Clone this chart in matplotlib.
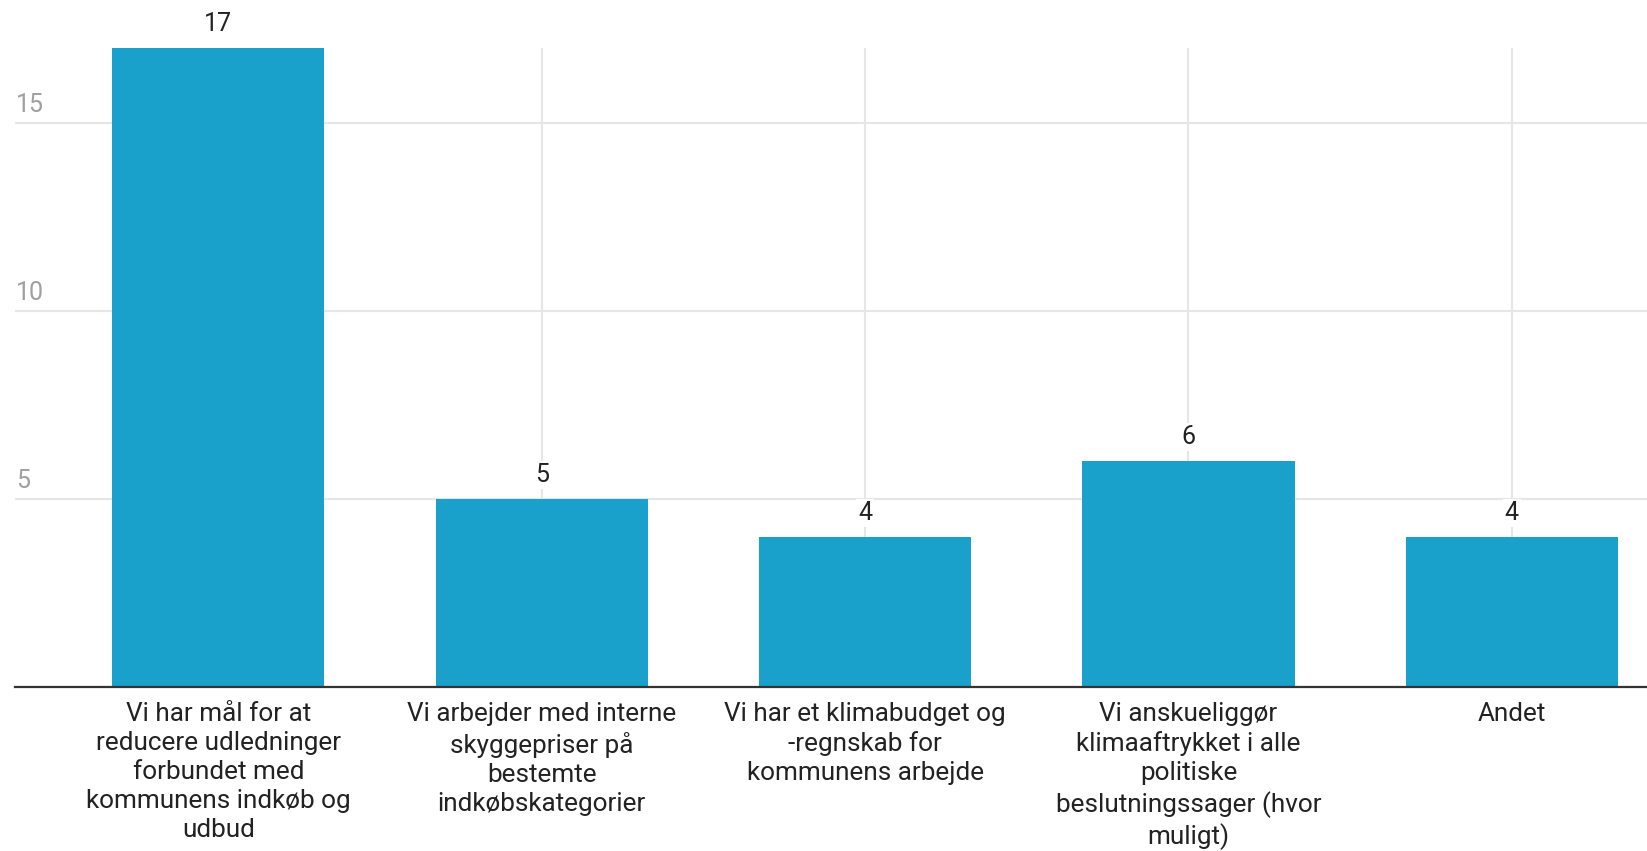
import matplotlib
matplotlib.use("Agg")
import matplotlib.pyplot as plt
from matplotlib.transforms import blended_transform_factory, offset_copy

categories = [
    "Vi har mål for at\nreducere udledninger\nforbundet med\nkommunens indkøb og\nudbud",
    "Vi arbejder med interne\nskyggepriser på\nbestemte\nindkøbskategorier",
    "Vi har et klimabudget og\n-regnskab for\nkommunens arbejde",
    "Vi anskueliggør\nklimaaftrykket i alle\npolitiske\nbeslutningssager (hvor\nmuligt)",
    "Andet",
]
values = [17, 5, 4, 6, 4]
yticks = [5, 10, 15]

plt.rcParams['font.family'] = ['Roboto', 'DejaVu Sans']

fig = plt.figure(figsize=(16.47, 8.51), dpi=100)
ax = fig.add_axes([15/1647, (851-687)/851, 1-15/1647, (687-48)/851])

x = list(range(len(categories)))
bar_color = "#19a1cc"
ax.bar(x, values, width=0.656, color=bar_color, zorder=2)

ax.set_xlim(-0.629, 4.418)
ax.set_ylim(0, 17)

# grid
ax.set_yticks(yticks)
ax.set_xticks(x)
ax.grid(True, axis='both', color='#e6e6e6', linewidth=1.5, zorder=0)
ax.set_axisbelow(True)
ax.tick_params(axis='y', length=0, labelleft=False)
ax.tick_params(axis='x', length=0, pad=11)
ax.set_xticklabels(categories, fontsize=18.8, color='#222222', linespacing=1.26, va='top', ha='center')

for s in ['top', 'right', 'left']:
    ax.spines[s].set_visible(False)
ax.spines['bottom'].set_color('#333333')
ax.spines['bottom'].set_linewidth(1.6)
ax.spines['bottom'].set_zorder(3)

# y tick labels inside, above grid lines
trans = blended_transform_factory(ax.transAxes, ax.transData)
trans = offset_copy(trans, fig=fig, x=1, y=6, units='dots')
for t in yticks:
    ax.text(0, t, str(t), transform=trans, ha='left', va='bottom',
            fontsize=18, color='#a0a0a0')

# value labels
vtrans = offset_copy(ax.transData, fig=fig, x=0, y=12, units='dots')
for xi, v in zip(x, values):
    ax.text(xi, v, str(v), transform=vtrans, ha='center', va='bottom',
            fontsize=18, color='#222222', clip_on=False,
            bbox=dict(facecolor='white', edgecolor='none', pad=1.5))

fig.savefig("out.png", dpi=100, facecolor='white')
